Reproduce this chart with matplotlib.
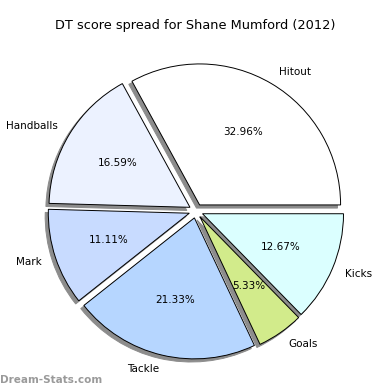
import matplotlib
matplotlib.use("Agg")
import matplotlib.pyplot as plt

categories = ["Hitout", "Handballs", "Mark", "Tackle", "Goals", "Kicks"]
values = [32.96, 16.59, 11.11, 21.33, 5.33, 12.67]
colors = ["#ffffff", "#ecf2ff", "#c8dbff", "#b6d6ff", "#d2eb8b", "#dbffff"]
explode = [0.05] * len(values)
title = "DT score spread for Shane Mumford (2012)"
watermark = "Dream-Stats.com"

fig = plt.figure(figsize=(3.9, 3.9), dpi=100)
ax = fig.add_axes([0, 0, 1, 1])
cx, cy, R = 196.0, 211.0, 141.0
ax.pie(values, labels=categories, colors=colors, explode=explode,
       autopct="%1.2f%%",
       shadow=dict(ox=-0.016, oy=-0.016, color="#8c8c8c", alpha=1.0),
       startangle=0, counterclock=True,
       wedgeprops=dict(edgecolor="black", linewidth=0.7),
       textprops=dict(fontsize=7.5, color="black"))
ax.set_aspect("equal")
ax.set_xlim(-cx / R, (390 - cx) / R)
ax.set_ylim(-(390 - cy) / R, cy / R)
ax.axis("off")

fig.text(0.5, 1 - 25 / 390, title, ha="center", va="center", fontsize=9.25)
fig.text(0.0, 1 - 380 / 390, watermark, ha="left", va="center",
         fontsize=7.5, color="#9a9a9a", fontweight="bold")

fig.savefig("out.png", dpi=100)
